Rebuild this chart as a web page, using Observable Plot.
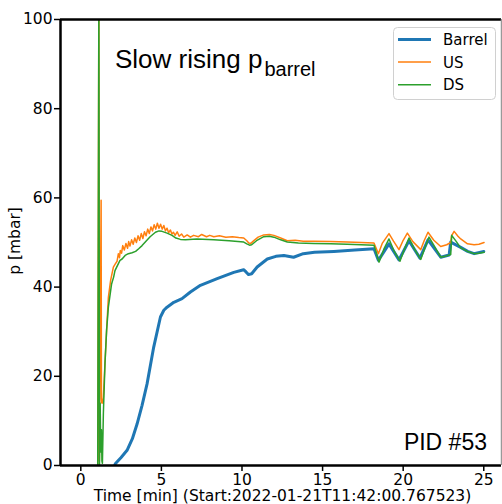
<!DOCTYPE html>
<html><head><meta charset="utf-8">
<script src="https://cdn.jsdelivr.net/npm/d3@7"></script>
<script src="https://cdn.jsdelivr.net/npm/@observablehq/plot@0.6"></script>
<style>html,body{margin:0;padding:0;background:#fff;} #chart{position:relative;width:502px;height:504px;overflow:hidden}</style>
</head><body><div id="chart"></div>
<script>
const seriesNames = ["Barrel", "US", "DS"];
const seriesColors = ["#1f77b4", "#ff7f0e", "#2ca02c"];
const seriesWidths = [3, 1.5, 1.5];

const barrelT = [2.1, 2.14, 2.5, 2.87, 3.2, 3.49, 3.8, 4.11, 4.52, 4.94, 5.15, 5.35, 5.77, 6.28, 6.8, 7.42, 8.46, 9.49, 10.1, 10.25, 10.4, 10.6, 10.94, 11.57, 12.1, 12.6, 13.2, 13.8, 14.5, 15.7, 17.0, 18.19, 18.46, 19.12, 19.74, 20.36, 21.04, 21.54, 22.33, 22.85, 22.95, 23.57, 24.0, 24.4, 25.0];
const barrelV = [0, 0.4, 1.8, 3.4, 6.0, 9.3, 13.5, 18.3, 26.5, 33.3, 34.8, 35.5, 36.6, 37.4, 38.9, 40.4, 41.9, 43.3, 43.9, 43.4, 42.8, 43.0, 44.5, 46.3, 46.9, 47.1, 46.7, 47.5, 47.8, 48.0, 48.3, 48.6, 46.0, 49.7, 46.1, 50.4, 46.5, 50.6, 46.7, 47.2, 50.1, 48.9, 48.0, 47.5, 48.0];

const usT = [1.05, 1.12, 1.15, 1.26, 1.28, 1.30, 1.34, 1.40, 1.50, 1.60, 1.71, 1.85, 2.02, 2.14, 2.25, 2.33, 2.40, 2.45, 2.53, 2.60, 2.70, 2.80, 2.90, 2.97, 3.05, 3.15, 3.25, 3.35, 3.45, 3.55, 3.65, 3.75, 3.85, 3.95, 4.05, 4.15, 4.25, 4.35, 4.45, 4.55, 4.65, 4.75, 4.85, 4.95, 5.05, 5.15, 5.25, 5.35, 5.45, 5.56, 5.65, 5.75, 5.85, 5.98, 6.1, 6.25, 6.39, 6.6, 6.8, 7.0, 7.3, 7.5, 7.8, 8.0, 8.25, 8.6, 9.0, 9.4, 9.8, 10.11, 10.3, 10.42, 10.55, 10.7, 11.0, 11.35, 11.7, 11.98, 12.4, 12.81, 13.3, 13.8, 14.46, 15.5, 16.53, 17.4, 18.19, 18.46, 18.7, 19.12, 19.4, 19.74, 20.0, 20.26, 20.6, 21.09, 21.3, 21.54, 21.9, 22.33, 22.7, 22.95, 23.0, 23.16, 23.4, 23.57, 23.99, 24.4, 24.7, 25.02];
const usV = [0, 105, 1, 59.5, 15, 14, 14, 15.3, 23, 30.3, 37.7, 41.5, 44.5, 45.2, 45.8, 47.5, 46.6, 48.2, 47.6, 49.3, 48.3, 49.8, 48.7, 50.2, 49.2, 50.6, 49.6, 51.0, 50.0, 51.5, 50.5, 52.0, 50.9, 52.4, 51.5, 53.0, 52.0, 53.5, 52.6, 54.0, 53.0, 54.3, 53.2, 54.1, 53.0, 53.8, 52.6, 53.2, 52.2, 52.8, 51.9, 52.3, 51.6, 52.4, 51.4, 51.9, 51.2, 51.7, 51.2, 51.6, 51.3, 51.8, 51.3, 51.6, 51.3, 51.5, 51.2, 51.3, 51.1, 51.0, 50.4, 49.9, 49.8, 50.3, 51.2, 51.7, 51.8, 51.6, 51.0, 50.4, 50.5, 50.3, 50.3, 50.2, 50.1, 50.0, 49.9, 47.5, 49.8, 52.0, 50.3, 48.4, 50.5, 52.1, 50.2, 48.4, 50.4, 52.3, 50.5, 49.1, 49.5, 50.0, 51.5, 52.5, 51.4, 50.8, 49.7, 49.5, 49.6, 50.0];

const dsT = [1.05, 1.12, 1.16, 1.20, 1.24, 1.28, 1.31, 1.34, 1.40, 1.50, 1.60, 1.71, 1.91, 2.04, 2.12, 2.43, 2.56, 2.75, 2.95, 3.18, 3.4, 3.59, 3.8, 4.0, 4.3, 4.63, 4.85, 5.04, 5.35, 5.66, 5.9, 6.18, 6.49, 7.2, 8.25, 9.2, 10.11, 10.3, 10.47, 10.6, 10.9, 11.35, 11.7, 11.98, 12.4, 12.81, 13.5, 14.46, 15.5, 16.53, 17.4, 18.19, 18.5, 18.8, 19.12, 19.45, 19.8, 20.1, 20.36, 20.7, 21.09, 21.35, 21.6, 22.0, 22.33, 22.7, 22.95, 23.01, 23.3, 23.57, 24.0, 24.4, 24.7, 25.02];
const dsV = [0, 105, 0, 14, 3, 8, 1, 0.5, 11.7, 22.9, 30.3, 35.5, 40.7, 42.3, 43.7, 46.0, 46.3, 47.1, 47.5, 47.7, 48.0, 48.6, 49.3, 50.1, 51.3, 52.3, 52.6, 52.5, 52.1, 51.6, 51.0, 50.7, 50.6, 50.8, 50.6, 50.4, 50.1, 49.7, 49.4, 49.5, 50.4, 51.3, 51.4, 51.2, 50.6, 50.1, 49.9, 49.8, 49.7, 49.6, 49.5, 49.4, 45.6, 48.5, 50.8, 48.0, 45.8, 48.7, 51.0, 48.5, 46.2, 48.8, 51.2, 48.8, 46.7, 47.0, 47.3, 51.6, 50.2, 48.8, 48.0, 47.5, 47.6, 47.8];

const xTicks = [0, 5, 10, 15, 20, 25];
const yTicks = [0, 20, 40, 60, 80, 100];
const xDomain = [-1.26, 26.1];
const yDomain = [0, 100];
const titleMain = "Slow rising p";
const titleSub = "barrel";
const xLabel = "Time [min] (Start:2022-01-21T11:42:00.767523)";
const yLabel = "p [mbar]";
const pidText = "PID #53";

const seriesData = [[barrelT, barrelV], [usT, usV], [dsT, dsV]].map(([T, V], k) =>
  T.map((t, i) => ({t, v: V[i], s: seriesNames[k]})));

const W = 502, H = 504;
const plot = Plot.plot({
  width: W, height: H,
  marginLeft: 60, marginRight: 1, marginTop: 19, marginBottom: 39,
  x: {domain: xDomain},
  y: {domain: yDomain},
  style: {fontFamily: "DejaVu Sans", fontSize: "15.5px", color: "#000", background: "#fff", overflow: "hidden"},
  marks: [
    ...seriesData.map((d, k) => Plot.line(d, {x: "t", y: "v", stroke: seriesColors[k], strokeWidth: seriesWidths[k], clip: true, strokeLinejoin: "round"})),
    Plot.ruleY([yDomain[0]], {stroke: "#000", strokeWidth: 2.5}),
    Plot.ruleY([yDomain[1]], {stroke: "#000", strokeWidth: 2.5}),
    Plot.ruleX([xDomain[0]], {stroke: "#000", strokeWidth: 2.5}),
    Plot.ruleX([xDomain[1]], {stroke: "#999", strokeWidth: 1.5}),
    Plot.axisX({ticks: xTicks, tickSize: 6, tickPadding: 2, label: null, strokeWidth: 1.5, fontSize: 15.5}),
    Plot.axisY({ticks: yTicks, tickSize: 6, tickPadding: 2, label: null, strokeWidth: 1.5, fontSize: 15.5})
  ]
});
document.getElementById("chart").appendChild(plot);

const svg = d3.select(plot);
// title
const tt = svg.append("text").attr("x", 115).attr("y", 68).attr("text-anchor", "start")
  .attr("font-family", "Liberation Sans, Arial, sans-serif").attr("font-size", 26).attr("fill", "#000");
tt.append("tspan").text(titleMain);
tt.append("tspan").attr("dy", 8).attr("dx", 2).attr("font-size", 20).text(titleSub);
// PID
svg.append("text").attr("x", 487).attr("y", 450).attr("text-anchor", "end")
  .attr("font-family", "Liberation Sans, Arial, sans-serif").attr("font-size", 23).attr("fill", "#000").text(pidText);
// axis labels
svg.append("text").attr("x", 282.5).attr("y", 501).attr("text-anchor", "middle")
  .attr("font-family", "DejaVu Sans").attr("font-size", 15.5).attr("fill", "#000").text(xLabel);
svg.append("text").attr("transform", "translate(20,241) rotate(-90)").attr("text-anchor", "middle")
  .attr("font-family", "DejaVu Sans").attr("font-size", 15.5).attr("fill", "#000").text(yLabel);
// legend
const lg = svg.append("g");
lg.append("rect").attr("x", 393.5).attr("y", 27.5).attr("width", 102).attr("height", 72).attr("rx", 4)
  .attr("fill", "#fff").attr("fill-opacity", 0.8).attr("stroke", "#d0d0d0").attr("stroke-width", 1);
const ly = [39.5, 62, 84.7];
seriesNames.forEach((n, k) => {
  lg.append("line").attr("x1", 398).attr("x2", 431).attr("y1", ly[k]).attr("y2", ly[k])
    .attr("stroke", seriesColors[k]).attr("stroke-width", seriesWidths[k]);
  lg.append("text").attr("x", 443).attr("y", ly[k] + 5.5).attr("text-anchor", "start").attr("font-family", "DejaVu Sans")
    .attr("font-size", 15).attr("fill", "#000").text(n);
});
</script>
</body></html>
